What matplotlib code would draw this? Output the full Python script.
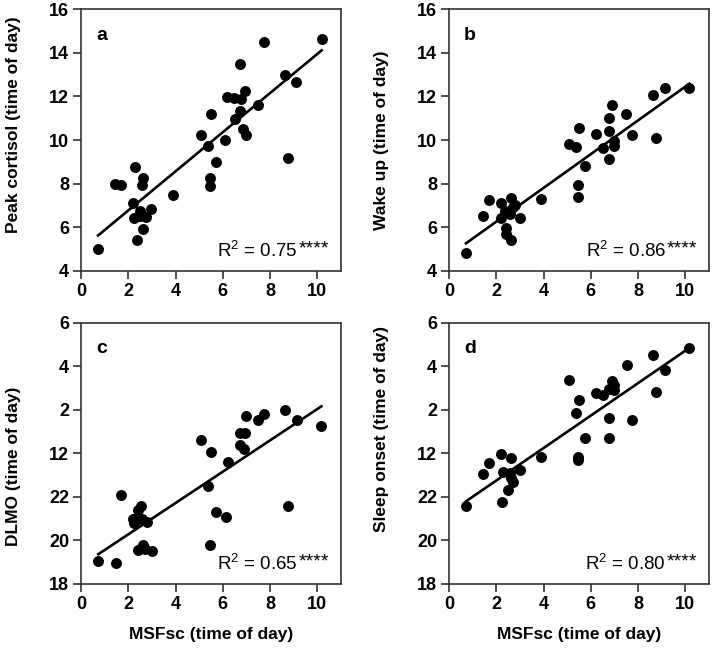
import matplotlib
matplotlib.use("Agg")
import matplotlib.pyplot as plt
import numpy as np

plt.rcParams['font.family'] = ['Liberation Sans', 'DejaVu Sans']

# panel a: peak cortisol
xa = [0.72, 1.42, 1.70, 2.18, 2.23, 2.30, 2.39, 2.48, 2.51, 2.59, 2.62, 2.62, 2.76, 2.96, 3.90,
      5.07, 5.39, 5.44, 5.44, 5.48, 5.72, 6.11, 6.17, 6.48, 6.52, 6.73, 6.73, 6.76, 6.87, 6.94,
      6.99, 7.49, 7.75, 8.62, 8.76, 9.11, 10.18]
ya = [5.00, 7.99, 7.93, 7.10, 6.41, 8.77, 5.43, 6.75, 6.50, 7.96, 8.28, 5.92, 6.49, 6.83, 7.50,
      10.25, 9.73, 8.28, 7.88, 11.21, 8.98, 9.99, 11.98, 11.95, 10.98, 11.32, 13.48, 11.90, 10.53, 12.25,
      10.25, 11.63, 14.49, 12.97, 9.20, 12.65, 14.65]

# panel b: wake up
xb = [0.72, 1.45, 1.70, 2.18, 2.22, 2.36, 2.43, 2.43, 2.57, 2.64, 2.64, 2.71, 2.78, 3.00, 3.91,
      5.08, 5.39, 5.46, 5.46, 5.50, 5.75, 6.22, 6.51, 6.75, 6.75, 6.77, 6.91, 6.96, 6.96, 7.50,
      7.75, 8.62, 8.75, 9.13, 10.17]
yb = [4.81, 6.53, 7.26, 7.10, 6.42, 6.73, 5.99, 5.69, 6.60, 7.34, 5.41, 6.91, 7.03, 6.42, 7.31,
      9.82, 9.66, 7.94, 7.37, 10.56, 8.80, 10.28, 9.62, 11.03, 10.41, 9.13, 11.59, 9.95, 9.72, 11.20,
      10.24, 12.08, 10.10, 12.38, 12.40]

# panel c: DLMO (hours, 24 = midnight)
xc = [0.73, 1.47, 1.71, 2.20, 2.26, 2.40, 2.40, 2.55, 2.60, 2.63, 2.72, 2.78, 3.00,
      5.07, 5.38, 5.45, 5.49, 5.73, 6.14, 6.21, 6.74, 6.74, 6.91, 6.95, 6.99, 7.49,
      7.75, 8.62, 8.75, 9.12, 10.17]
yc = [19.06, 18.97, 22.10, 21.00, 20.80, 21.40, 19.54, 21.56, 21.00, 19.80, 19.62, 20.83, 19.52,
      24.63, 22.48, 19.80, 24.05, 21.29, 21.10, 23.60, 24.94, 24.40, 24.20, 24.94, 25.71, 25.52,
      25.83, 26.00, 21.58, 25.55, 25.25]

# panel d: sleep onset
xd = [0.72, 1.43, 1.69, 2.18, 2.24, 2.28, 2.49, 2.57, 2.62, 2.64, 2.70, 3.00, 3.91,
      5.08, 5.39, 5.46, 5.46, 5.50, 5.75, 6.20, 6.51, 6.75, 6.75, 6.77, 6.91, 6.96, 7.00,
      7.51, 7.75, 8.62, 8.75, 9.13, 10.17]
yd = [21.59, 23.06, 23.57, 23.99, 21.77, 23.16, 22.33, 23.11, 23.80, 22.86, 22.70, 23.25, 23.83,
      27.36, 25.86, 23.82, 23.68, 26.47, 24.71, 26.78, 26.67, 26.98, 25.63, 24.71, 27.31, 26.93, 27.13,
      28.04, 25.55, 28.50, 26.81, 27.82, 28.85]

# regression lines (slope, intercept)
fit_a = (0.897, 4.98)
fit_b = (0.774, 4.71)
fit_c = (0.720, 18.84)
fit_d = (0.746, 21.26)

r2 = ["0.75", "0.86", "0.65", "0.80"]
letters = ["a", "b", "c", "d"]
ylabels = ["Peak cortisol (time of day)", "Wake up (time of day)",
           "DLMO (time of day)", "Sleep onset (time of day)"]

xticks = [0, 2, 4, 6, 8, 10]
yticks_top = [4, 6, 8, 10, 12, 14, 16]
yticks_bot = [18, 20, 22, 24, 26, 28, 30]
yticklabels_bot = ["18", "20", "22", "12", "2", "4", "6"]

fig = plt.figure(figsize=(7.13, 6.53), dpi=100)
pos = [[0.1136, 0.585, 0.3647, 0.401],
       [0.6297, 0.585, 0.3647, 0.401],
       [0.1136, 0.1057, 0.3647, 0.4],
       [0.6297, 0.1057, 0.3647, 0.4]]
label_y = [0.557, 0.5, 0.45, 0.594]
xs = [xa, xb, xc, xd]
ys = [ya, yb, yc, yd]
fits = [fit_a, fit_b, fit_c, fit_d]

for i in range(4):
    ax = fig.add_axes(pos[i])
    x = np.array(xs[i])
    ax.scatter(x, ys[i], s=62, color='black', zorder=3, linewidths=0)
    lx = np.array([x.min(), x.max()])
    ax.plot(lx, fits[i][0]*lx + fits[i][1], color='black', lw=1.9, zorder=2)
    ax.set_xlim(0, 11)
    ax.set_xticks(xticks)
    if i < 2:
        ax.set_ylim(4, 16)
        ax.set_yticks(yticks_top)
    else:
        ax.set_ylim(18, 30)
        ax.set_yticks(yticks_bot)
        ax.set_yticklabels(yticklabels_bot)
        ax.set_xlabel("MSFsc (time of day)", fontsize=12.5, fontweight='bold', labelpad=10)
    ax.set_ylabel(ylabels[i], fontsize=12.5, fontweight='bold')
    ax.yaxis.set_label_coords(-0.232, label_y[i])
    for s in ax.spines.values():
        s.set_color('#333333')
        s.set_linewidth(1.2)
    ax.tick_params(direction='out', length=5.5, width=1.2, color='#333333',
                   labelsize=13, pad=3)
    for lab in ax.get_xticklabels() + ax.get_yticklabels():
        lab.set_fontweight('bold')
    ax.text(0.08, 0.90, letters[i], transform=ax.transAxes, fontsize=14,
            fontweight='bold', ha='center', va='center')
    ax.text(0.835, 0.055, "R$\\mathregular{^2}$ = " + r2[i],
            transform=ax.transAxes, fontsize=13.5, ha='right', va='baseline')
    ax.text(0.838, 0.068, "****", transform=ax.transAxes, fontsize=14,
            ha='left', va='baseline')

fig.savefig("out.png", dpi=100)
